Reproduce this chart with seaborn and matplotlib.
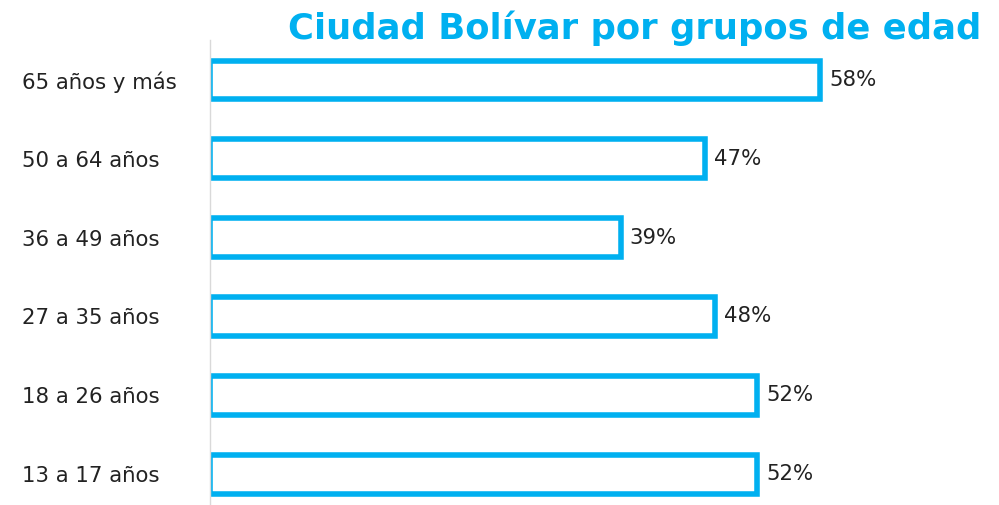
import matplotlib
matplotlib.use("Agg")
import matplotlib.pyplot as plt
import matplotlib.transforms as mtransforms
import seaborn as sns
import pandas as pd

grupos = ["65 años y más", "50 a 64 años", "36 a 49 años", "27 a 35 años", "18 a 26 años", "13 a 17 años"]
porcentajes = [58, 47, 39, 48, 52, 52]
titulo = "Ciudad Bolívar por grupos de edad"

azul = "#00B0F0"
texto = "#222222"

sns.set_theme(style="white")
plt.rcParams["font.family"] = ["DejaVu Sans"]

df = pd.DataFrame({"grupo": grupos, "pct": porcentajes})

fig = plt.figure(figsize=(9.99, 5.05), dpi=100)
ax = fig.add_axes([0.2107, 0.0, 0.7893, 0.92])

sns.barplot(data=df, x="pct", y="grupo", orient="h", ax=ax,
            color="white", edgecolor=azul, linewidth=4.0, width=0.49,
            saturation=1)

ax.set_xlim(0, 75)
ax.set_ylim(5.39, -0.5)
ax.set_xlabel("")
ax.set_ylabel("")
ax.set_xticks([])
ax.tick_params(axis="y", length=0, pad=0, labelsize=15.3, labelcolor=texto)

# category labels left-aligned near the figure's left edge
shift = mtransforms.ScaledTranslation(-1.88, 0, fig.dpi_scale_trans)
for lbl in ax.get_yticklabels():
    lbl.set_horizontalalignment("left")
    lbl.set_transform(lbl.get_transform() + shift)

for s in ["top", "right", "bottom"]:
    ax.spines[s].set_visible(False)
ax.spines["left"].set_color("#d9d9d9")
ax.spines["left"].set_linewidth(1)

for i, v in enumerate(porcentajes):
    ax.annotate(f"{v}%", xy=(v, i), xytext=(9, 0), textcoords="offset pixels",
                va="center", ha="left", fontsize=15.3, color=texto)

fig.text(0.635, 0.945, titulo, ha="center", va="center", fontsize=25.5,
         fontweight="bold", color=azul)

fig.savefig("out.png", dpi=100, facecolor="white")
